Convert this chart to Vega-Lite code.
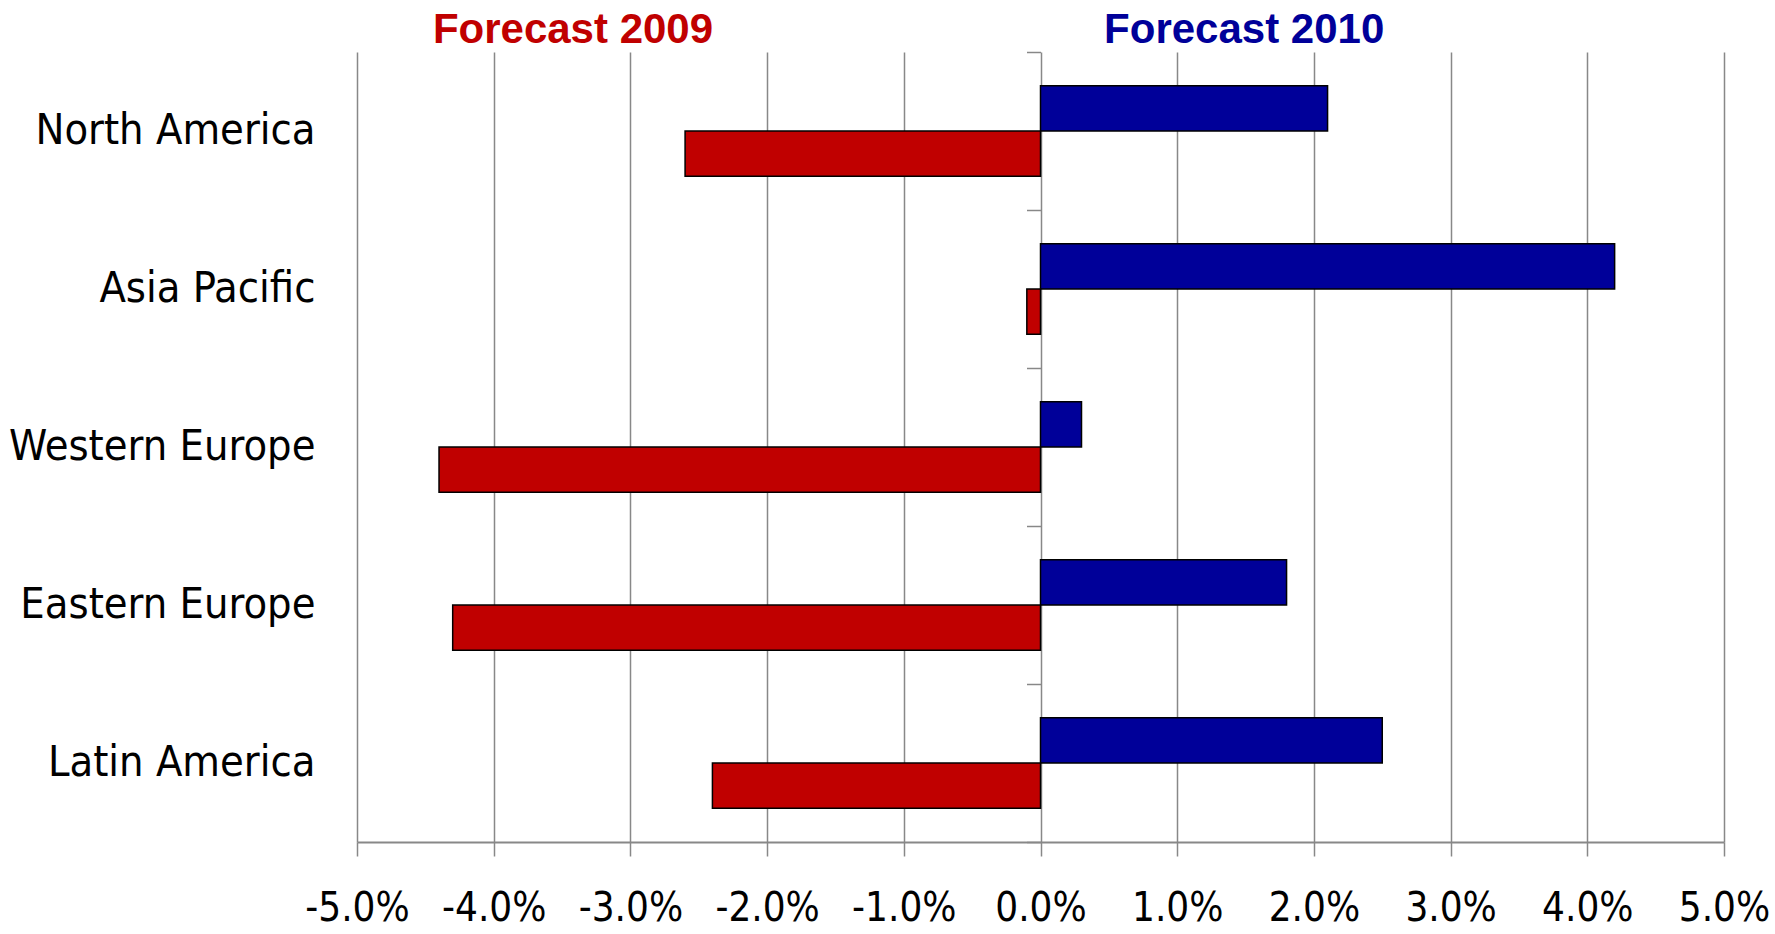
{
  "$schema": "https://vega.github.io/schema/vega-lite/v6.json",
  "padding": {"left": 8, "top": 9, "right": 0, "bottom": 0},
  "background": "white",
  "spacing": 0,
  "config": {"view": {"stroke": null}, "font": "DejaVu Sans Condensed, Liberation Sans Narrow, Roboto, sans-serif"},
  "resolve": {"scale": {"x": "shared", "color": "shared"}},
  "vconcat": [
    {
      "width": 1367,
      "height": 42,
      "data": {"values": [
        {"label": "Forecast 2009", "pos": -3.42, "series": "2009"},
        {"label": "Forecast 2010", "pos": 1.49, "series": "2010"}
      ]},
      "mark": {"type": "text", "font": "Liberation Sans", "fontWeight": "bold", "fontSize": 42, "baseline": "middle", "align": "center"},
      "encoding": {
        "x": {"field": "pos", "type": "quantitative", "scale": {"domain": [-5, 5], "nice": false, "zero": false}, "axis": null},
        "text": {"field": "label"},
        "color": {"field": "series", "type": "nominal", "scale": {"domain": ["2009", "2010"], "range": ["#C00000", "#000099"]}, "legend": null}
      }
    },
    {
      "width": 1367,
      "height": 790,
      "data": {"values": [
        {"region": "North America", "series": "2010", "value": 2.1},
        {"region": "North America", "series": "2009", "value": -2.6},
        {"region": "Asia Pacific", "series": "2010", "value": 4.2},
        {"region": "Asia Pacific", "series": "2009", "value": -0.1},
        {"region": "Western Europe", "series": "2010", "value": 0.3},
        {"region": "Western Europe", "series": "2009", "value": -4.4},
        {"region": "Eastern Europe", "series": "2010", "value": 1.8},
        {"region": "Eastern Europe", "series": "2009", "value": -4.3},
        {"region": "Latin America", "series": "2010", "value": 2.5},
        {"region": "Latin America", "series": "2009", "value": -2.4}
      ]},
      "resolve": {"axis": {"y": "independent"}},
      "layer": [
        {
          "mark": {"type": "bar", "stroke": "black", "strokeWidth": 1.5},
          "encoding": {
            "y": {"field": "region", "type": "nominal", "sort": null,
              "scale": {"paddingInner": 0, "paddingOuter": 0},
              "axis": {"title": null, "ticks": false, "domain": false, "labelPadding": 42, "labelFontSize": 43, "labelLimit": 0, "labelColor": "black"}},
            "yOffset": {"field": "series", "type": "nominal", "sort": ["2010", "2009"], "scale": {"paddingInner": 0, "paddingOuter": 0.75}},
            "x": {"field": "value", "type": "quantitative",
              "scale": {"domain": [-5, 5], "nice": false, "zero": false},
              "axis": {"title": null, "values": [-5, -4, -3, -2, -1, 0, 1, 2, 3, 4, 5], "grid": true, "gridColor": "#888888", "gridWidth": 1.5,
                "domainColor": "#888888", "domainWidth": 2, "tickColor": "#888888", "tickWidth": 1.5, "tickSize": 14,
                "labelFontSize": 40, "labelColor": "black", "labelPadding": 32, "labelLimit": 0, "labelOverlap": false, "labelFlush": false,
                "labelExpr": "(datum.value < 0 ? '-' : '') + format(abs(datum.value), '.1f') + '%'"}},
            "color": {"field": "series", "type": "nominal", "scale": {"domain": ["2009", "2010"], "range": ["#C00000", "#000099"]}, "legend": null}
          }
        },
        {
          "mark": {"type": "bar", "opacity": 0},
          "encoding": {
            "y": {"field": "region", "type": "nominal", "sort": null,
              "axis": {"title": null, "orient": "left", "offset": -683.5, "labels": false, "ticks": true, "tickBand": "extent", "tickSize": 14, "tickColor": "#888888", "tickWidth": 1.5, "domain": false}},
            "yOffset": {"field": "series", "type": "nominal", "sort": ["2010", "2009"]},
            "x": {"field": "value", "type": "quantitative"}
          }
        }
      ]
    }
  ]
}
